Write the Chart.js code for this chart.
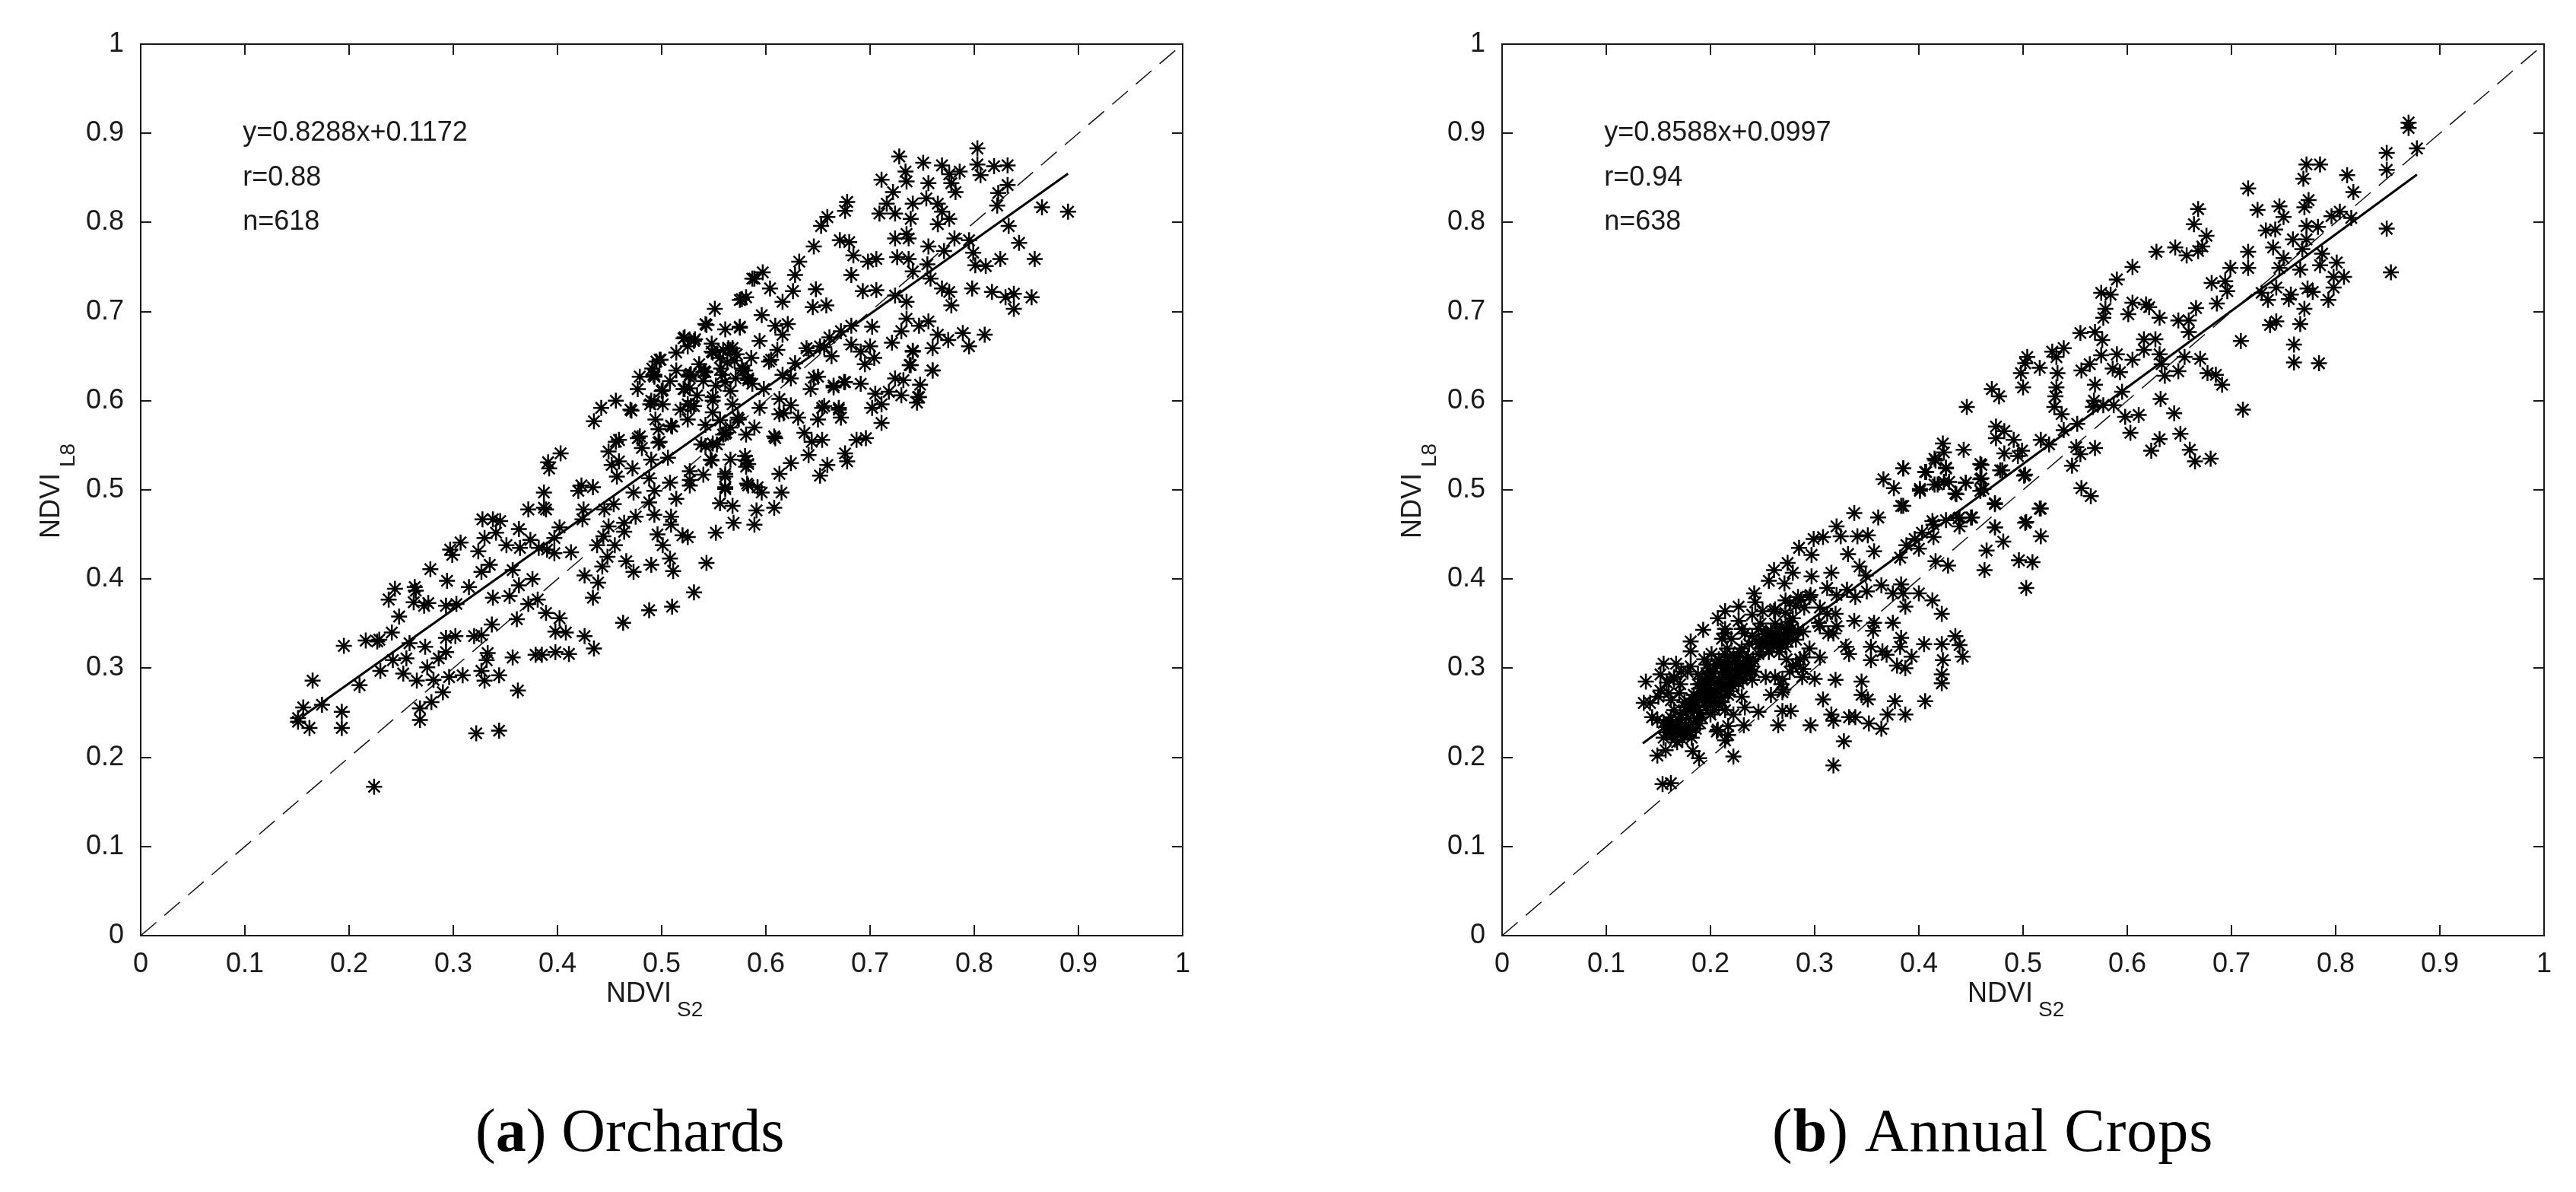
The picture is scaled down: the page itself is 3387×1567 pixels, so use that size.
<!DOCTYPE html>
<html>
<head>
<meta charset="utf-8">
<title>NDVI scatter</title>
<script src="https://cdn.jsdelivr.net/npm/chart.js@4"></script>
<style>
  body { margin: 0; background: #fff; }
  canvas { position: absolute; top: 0; }
</style>
</head>
<body>
<canvas id="chartA" width="1693" height="1567" style="left:0"></canvas>
<canvas id="chartB" width="1694" height="1567" style="left:1693px"></canvas>
<script>
// values, [NDVI S2, NDVI L8]
const orchardPoints = [
[.151,.244],[.156,.256],[.151,.240],[.162,.233],[.165,.286],[.174,.259],[.193,.251],[.193,.233],[.195,.325],[.210,.281],
[.216,.331],[.227,.330],[.229,.332],[.224,.167],[.230,.297],[.241,.340],[.248,.358],[.238,.377],[.244,.389],[.263,.391],
[.264,.387],[.262,.374],[.272,.370],[.276,.373],[.278,.411],[.294,.398],[.293,.370],[.303,.372],[.315,.391],[.307,.441],
[.297,.433],[.299,.427],[.324,.431],[.335,.416],[.327,.408],[.338,.379],[.357,.410],[.376,.400],[.363,.393],[.354,.381],
[.361,.355],[.372,.372],[.381,.377],[.389,.362],[.402,.356],[.398,.341],[.408,.340],[.426,.336],[.435,.322],[.411,.316],
[.398,.318],[.385,.315],[.379,.315],[.357,.312],[.362,.275],[.344,.292],[.330,.286],[.327,.297],[.332,.309],[.333,.317],
[.337,.349],[.327,.337],[.320,.336],[.302,.336],[.293,.334],[.293,.318],[.286,.311],[.275,.301],[.273,.324],[.258,.328],
[.255,.311],[.242,.309],[.252,.294],[.265,.286],[.281,.287],[.296,.290],[.309,.292],[.290,.273],[.279,.262],[.268,.255],
[.268,.242],[.322,.227],[.344,.230],[.413,.430],[.426,.404],[.439,.396],[.434,.379],[.463,.351],[.488,.365],[.510,.369],
[.531,.385],[.543,.418],[.511,.409],[.508,.423],[.490,.416],[.473,.408],[.466,.420],[.443,.414],[.448,.425],[.455,.438],
[.438,.438],[.444,.448],[.449,.459],[.464,.463],[.464,.453],[.475,.470],[.493,.472],[.509,.470],[.509,.461],[.496,.450],
[.501,.438],[.520,.449],[.525,.447],[.552,.452],[.569,.463],[.589,.461],[.568,.482],[.556,.485],[.591,.477],[.488,.486],
[.514,.490],[.493,.499],[.508,.508],[.527,.505],[.527,.521],[.540,.517],[.561,.515],[.561,.501],[.582,.507],[.592,.503],
[.547,.534],[.566,.534],[.581,.526],[.472,.524],[.473,.497],[.457,.515],[.452,.528],[.459,.532],[.490,.534],[.506,.536],
[.488,.513],[.423,.505],[.420,.499],[.434,.503],[.387,.497],[.372,.478],[.387,.480],[.389,.478],[.425,.478],[.424,.467],
[.445,.478],[.454,.484],[.402,.458],[.397,.446],[.374,.444],[.363,.456],[.364,.435],[.351,.438],[.341,.452],[.338,.467],
[.328,.467],[.345,.465],[.330,.446],[.397,.429],[.390,.433],[.382,.435],[.392,.524],[.403,.541],[.391,.531],
[.728,.874],[.734,.857],[.711,.848],[.751,.867],[.769,.864],[.776,.854],[.786,.857],[.803,.883],[.803,.865],[.806,.853],
[.819,.863],[.832,.864],[.823,.833],[.832,.842],[.822,.819],[.722,.834],[.735,.846],[.756,.844],[.782,.834],[.778,.844],
[.754,.827],[.741,.821],[.765,.821],[.716,.821],[.709,.810],[.724,.810],[.739,.804],[.769,.812],[.776,.804],[.765,.798],
[.865,.817],[.890,.812],[.833,.796],[.843,.777],[.858,.759],[.825,.759],[.678,.823],[.676,.813],[.659,.806],[.653,.796],
[.646,.773],[.671,.780],[.680,.778],[.684,.763],[.698,.756],[.706,.759],[.726,.761],[.737,.759],[.735,.787],[.724,.782],
[.737,.782],[.756,.773],[.771,.768],[.781,.782],[.795,.780],[.799,.766],[.801,.752],[.811,.751],[.755,.753],[.741,.745],
[.758,.737],[.682,.741],[.693,.723],[.706,.724],[.724,.718],[.735,.711],[.769,.726],[.776,.722],[.778,.707],[.798,.726],
[.817,.722],[.830,.716],[.838,.720],[.838,.703],[.855,.716],[.632,.756],[.628,.741],[.597,.744],[.587,.737],[.604,.726],
[.626,.723],[.648,.725],[.616,.711],[.645,.705],[.658,.707],[.581,.716],[.575,.713],[.551,.703],[.596,.696],[.609,.684],
[.621,.686],[.616,.674],[.543,.685],[.561,.680],[.575,.683],[.522,.671],[.532,.669],[.514,.654],[.525,.661],[.548,.655],
[.564,.659],[.594,.667],[.611,.657],[.603,.644],[.495,.644],[.492,.629],[.479,.627],[.527,.629],[.542,.632],[.577,.636],
[.583,.625],[.557,.636],[.477,.613],[.501,.612],[.522,.613],[.549,.604],[.456,.600],[.471,.589],[.490,.600],[.501,.596],
[.525,.596],[.531,.594],[.568,.596],[.561,.621],[.616,.629],[.628,.642],[.639,.659],[.652,.661],[.661,.671],[.672,.678],
[.682,.684],[.702,.683],[.700,.661],[.721,.665],[.682,.663],[.663,.650],[.691,.655],[.704,.648],[.695,.641],[.735,.692],
[.747,.684],[.756,.689],[.730,.678],[.765,.674],[.775,.668],[.789,.676],[.795,.661],[.810,.674],[.741,.655],[.760,.659],
[.739,.640],[.760,.634],[.724,.625],[.732,.623],[.748,.618],[.747,.604],[.730,.606],[.718,.610],[.705,.608],[.745,.598],
[.702,.592],[.711,.596],[.711,.575],[.691,.619],[.676,.621],[.665,.615],[.650,.627],[.643,.613],[.624,.625],[.613,.602],
[.598,.613],[.594,.592],[.613,.585],[.624,.595],[.654,.592],[.670,.592],[.650,.579],[.672,.581],[.631,.581],[.637,.564],
[.644,.554],[.654,.556],[.609,.558],[.589,.570],[.581,.562],[.574,.579],[.542,.573],[.562,.564],[.553,.551],[.538,.551],
[.497,.553],[.509,.572],[.497,.568],[.525,.579],[.494,.579],[.456,.554],[.479,.560],[.481,.547],
[.548,.533],[.581,.533],[.613,.518],[.624,.530],[.641,.539],[.652,.516],[.659,.528],
[.676,.541],[.687,.556],[.696,.558],[.678,.532],[.583,.505],[.596,.497],[.615,.497],[.608,.480],
[.577,.714],[.589,.737],[.542,.686],[.575,.682],[.521,.670],[.531,.667],[.498,.646],[.491,.636],
[.493,.627],[.526,.627],[.540,.632],[.580,.634],[.559,.657],[.568,.659],[.500,.611],[.521,.613],
[.549,.587],[.587,.619],[.442,.592],[.470,.590],[.489,.596],[.528,.594],[.435,.577],[.510,.571],
[.573,.581],[.459,.556],[.477,.558],[.449,.543],[.498,.554],[.542,.549],[.559,.562],
[.528,.630],[.541,.633],[.566,.657],[.549,.654],[.605,.646],[.583,.623],[.558,.629],[.578,.634],[.641,.656],[.656,.660],
[.646,.626],[.665,.617],[.675,.621],[.741,.656],[.760,.634],[.746,.604],[.738,.640],[.656,.594],[.670,.590],[.617,.586],
[.608,.560],[.561,.563],[.549,.552],[.583,.529],[.580,.538],[.561,.518],[.561,.503],[.527,.511],[.493,.599],[.493,.629],
[.499,.646],[.527,.614],[.549,.600],[.566,.611],[.572,.652],[.556,.648],[.536,.641],[.563,.643],[.552,.617],[.571,.625],
[.534,.606],[.518,.590],[.556,.578],[.566,.570],[.514,.634],[.508,.622],[.540,.622],[.586,.648],[.570,.645],[.548,.664]
];

const cropPoints = [
[.154,.170],[.162,.171],[.149,.202],[.157,.208],[.183,.207],[.189,.199],[.222,.201],[.214,.219],[.207,.231],[.217,.235],
[.232,.236],[.265,.236],[.269,.252],[.277,.252],[.296,.236],[.328,.218],[.318,.191],[.308,.265],[.316,.248],[.318,.241],
[.333,.245],[.339,.245],[.352,.238],[.364,.232],[.370,.248],[.387,.248],[.377,.263],[.406,.263],[.345,.285],[.345,.270],
[.351,.265],[.320,.287],[.300,.288],[.288,.290],[.305,.312],[.330,.324],[.333,.316],[.354,.324],[.354,.309],[.365,.319],
[.369,.315],[.382,.324],[.379,.303],[.387,.300],[.393,.313],[.405,.327],[.422,.327],[.435,.336],[.439,.326],[.442,.313],
[.423,.309],[.422,.293],[.422,.283],[.383,.334],[.356,.342],[.375,.351],[.357,.351],[.338,.353],[.313,.339],[.305,.347],
[.321,.347],[.312,.361],[.320,.361],[.422,.361],[.413,.376],[.400,.384],[.387,.369],[.383,.394],[.375,.384],[.385,.384],
[.364,.393],[.350,.386],[.339,.380],[.331,.388],[.312,.390],[.349,.404],[.343,.414],[.316,.407],[.297,.403],[.274,.418],
[.261,.410],[.279,.407],[.256,.398],[.271,.395],[.295,.380],[.287,.377],[.276,.373],[.242,.384],[.243,.374],[.261,.364],
[.279,.356],[.227,.369],[.214,.364],[.207,.356],[.227,.353],[.193,.343],[.181,.330],[.181,.319],[.214,.339],[.211,.333],
[.233,.339],[.246,.344],[.259,.339],[.279,.339],[.155,.305],[.167,.305],[.152,.293],[.138,.285],[.136,.261],[.142,.261],
[.152,.275],[.165,.288],[.144,.245],[.149,.242],[.181,.302],[.194,.310],[.214,.316],[.230,.322],[.246,.316],[.259,.322],
[.273,.310],[.295,.322],[.279,.302],[.289,.299],[.253,.290],[.269,.288],[.240,.302],[.227,.305],[.214,.302],[.197,.293],
[.188,.282],[.207,.282],[.220,.288],[.194,.268],[.211,.268],[.230,.268],[.233,.256],[.258,.270],[.269,.273],[.246,.251],
[.222,.248],[.204,.253],[.188,.253],[.165,.253],[.155,.239],[.171,.239],[.184,.239],[.162,.228],[.178,.228],[.168,.217],
[.155,.222],[.194,.282],[.197,.304],[.188,.293],[.201,.273],[.217,.293],[.184,.270],[.175,.262],[.162,.264],[.171,.282],
[.227,.290],[.240,.287],[.201,.316],[.220,.333],[.237,.327],[.246,.327],[.253,.339],[.266,.333],[.289,.341],[.273,.344],
[.214,.344],[.230,.344],[.158,.284],[.181,.259],[.191,.245],[.168,.233],[.171,.248],[.162,.245],[.214,.253],[.217,.225],
[.206,.229],[.305,.368],[.321,.382],[.304,.351],[.318,.339],
[.164,.233],[.172,.226],[.158,.228],[.176,.236],[.166,.220],[.182,.222],[.186,.232],[.160,.240],[.170,.242],[.190,.238],
[.178,.252],[.186,.258],[.190,.250],[.196,.256],[.200,.248],[.182,.266],[.192,.264],[.203,.262],[.176,.256],[.208,.258],
[.196,.276],[.204,.272],[.210,.278],[.200,.284],[.192,.288],[.208,.288],[.214,.282],[.218,.274],[.222,.280],[.202,.294],
[.212,.296],[.220,.298],[.198,.300],[.206,.304],[.224,.290],[.228,.298],[.216,.308],[.224,.306],[.232,.304],[.222,.314],
[.228,.318],[.236,.312],[.216,.322],[.208,.310],[.238,.298],[.250,.330],[.258,.328],[.264,.326],[.252,.338],[.262,.336],
[.270,.338],[.274,.330],[.256,.318],[.266,.318],[.240,.336],[.278,.344],[.268,.346],[.262,.350],[.248,.350],[.276,.352],
[.165,.290],[.172,.296],[.160,.272],[.170,.272],[.150,.268],[.178,.296],[.268,.282],[.270,.276],[.262,.290],[.276,.296],
[.282,.304],[.286,.310],[.290,.312],[.242,.296],[.250,.364],[.262,.366],[.272,.362],[.282,.370],[.290,.368],[.240,.360],
[.272,.376],[.284,.380],[.296,.382],
[.187,.262],[.193,.272],[.199,.266],[.205,.278],[.211,.262],[.217,.270],[.189,.277],[.195,.284],[.206,.268],[.213,.290],
[.219,.284],[.225,.296],[.231,.288],[.235,.294],[.198,.290],[.204,.300],[.210,.306],[.218,.304],[.226,.312],[.234,.308],
[.241,.310],[.213,.276],[.200,.258],[.227,.283],[.163,.226],[.175,.230],[.169,.236],[.181,.228],[.187,.244],[.159,.234],
[.179,.244],[.173,.220],[.254,.326],[.260,.334],[.268,.330],[.276,.338],[.282,.332],[.272,.324],[.258,.342],[.284,.342],
[.244,.330],[.248,.322],
[.385,.524],[.366,.512],[.376,.502],[.401,.499],[.406,.520],[.426,.525],[.383,.482],[.416,.533],[.460,.528],[.460,.513],
[.480,.522],[.501,.516],[.418,.506],[.429,.509],[.436,.495],[.445,.508],[.462,.501],[.338,.474],[.361,.469],[.473,.485],
[.451,.469],[.439,.469],[.426,.466],[.439,.459],[.414,.461],[.414,.447],[.403,.452],[.396,.445],[.388,.438],[.400,.434],
[.382,.424],[.321,.459],[.325,.448],[.341,.448],[.351,.449],[.308,.447],[.299,.445],[.285,.435],[.297,.427],[.332,.428],
[.357,.431],[.473,.458],[.481,.442],[.465,.432],[.416,.420],[.428,.415],[.463,.410],[.496,.421],[.509,.419],[.503,.390],
[.503,.464],[.517,.479],[.517,.448],
[.870,.912],[.870,.906],[.878,.883],[.849,.878],[.849,.859],[.772,.865],[.785,.865],[.811,.853],[.769,.849],[.817,.834],
[.716,.838],[.774,.825],[.770,.817],[.746,.818],[.725,.814],[.750,.806],[.804,.812],[.796,.807],[.815,.805],[.772,.796],
[.783,.795],[.849,.793],[.733,.791],[.742,.792],[.759,.781],[.772,.781],[.740,.772],[.768,.770],[.750,.760],[.787,.765],
[.801,.755],[.785,.752],[.716,.767],[.716,.749],[.699,.749],[.746,.749],[.766,.747],[.798,.739],[.808,.739],[.853,.744],
[.668,.815],[.664,.798],[.676,.785],[.672,.773],[.628,.767],[.646,.772],[.657,.763],[.668,.768],[.605,.750],[.590,.736],
[.575,.721],[.584,.719],[.579,.703],[.577,.693],[.605,.710],[.601,.697],[.618,.708],[.621,.705],[.631,.693],[.649,.690],
[.659,.690],[.666,.704],[.681,.732],[.694,.734],[.696,.723],[.686,.709],[.743,.727],[.729,.721],[.735,.713],[.757,.719],
[.755,.714],[.773,.726],[.778,.722],[.798,.727],[.793,.713],[.770,.703],[.766,.686],[.743,.689],[.737,.685],[.659,.677],
[.555,.676],[.569,.677],[.576,.668],[.616,.669],[.627,.669],[.709,.667],[.760,.663],[.760,.643],[.784,.642],[.539,.659],
[.528,.655],[.504,.649],[.532,.649],[.516,.637],[.502,.642],[.498,.631],[.500,.615],[.470,.613],[.477,.605],[.446,.593],
[.533,.631],[.532,.615],[.531,.605],[.530,.593],[.537,.585],[.575,.651],[.590,.652],[.605,.646],[.616,.657],[.631,.652],
[.564,.641],[.556,.634],[.586,.636],[.593,.632],[.633,.641],[.636,.628],[.649,.633],[.655,.649],[.670,.647],[.677,.631],
[.685,.629],[.691,.618],[.569,.618],[.568,.600],[.567,.593],[.577,.595],[.587,.595],[.595,.610],[.632,.602],[.645,.586],
[.711,.590],[.598,.582],[.611,.584],[.603,.564],[.651,.563],[.631,.557],[.623,.544],[.660,.545],[.665,.532],[.680,.535],
[.552,.574],[.539,.567],[.517,.556],[.525,.551],[.474,.571],[.482,.566],[.491,.556],[.474,.558],[.499,.544],[.482,.541],
[.495,.538],[.423,.552],[.424,.542],[.443,.545],[.415,.535],[.569,.547],[.551,.548],[.555,.540],[.547,.527],[.459,.529],
[.426,.524],[.407,.520],[.385,.524],[.478,.522],[.502,.517],[.459,.512],[.424,.509],[.415,.506],[.445,.508],[.401,.501],
[.435,.496],[.459,.499],[.556,.502],[.565,.493],[.473,.484],[.516,.479],[.385,.482],[.502,.463],[.473,.458],[.438,.468],
[.413,.465],[.450,.469]
];

// 1:1 reference and fitted lines
const identityLine = [[0, 0], [1, 1]];
const orchardFit = [[.155, .2457], [.890, .8548]];
const cropFit = [[.135, .2156], [.878, .8537]];

const tickValues = [0, .1, .2, .3, .4, .5, .6, .7, .8, .9, 1];
const tickLabels = ['0', '0.1', '0.2', '0.3', '0.4', '0.5', '0.6', '0.7', '0.8', '0.9', '1'];

const orchardNotes = ['y=0.8288x+0.1172', 'r=0.88', 'n=618'];
const cropNotes = ['y=0.8588x+0.0997', 'r=0.94', 'n=638'];
const noteRows = [.9, .85, .8];
const noteColumn = .098;

const SANS = '"Liberation Sans", Arial, sans-serif';
const SERIF = '"Liberation Serif", serif';
const INK = '#1a1a1a';

function toXY(pairs) {
    return pairs.map(p => ({ x: p[0], y: p[1] }));
}

// box, inward ticks on all four sides, notes, axis names and the caption
function panelPlugin(notes, captionBold, captionRest, captionLeft, captionSpacing) {
    return {
        id: 'panelExtras',
        afterDraw(chart) {
            const ctx = chart.ctx;
            const area = chart.chartArea;
            const xScale = chart.scales.x;
            const yScale = chart.scales.y;

            ctx.save();
            ctx.strokeStyle = INK;
            ctx.lineWidth = 2;
            ctx.strokeRect(area.left, area.top, area.right - area.left, area.bottom - area.top);
            ctx.beginPath();
            tickValues.forEach(v => {
                const px = Math.round(xScale.getPixelForValue(v));
                const py = Math.round(yScale.getPixelForValue(v));
                ctx.moveTo(px, area.bottom); ctx.lineTo(px, area.bottom - 14);
                ctx.moveTo(px, area.top); ctx.lineTo(px, area.top + 14);
                ctx.moveTo(area.left, py); ctx.lineTo(area.left + 14, py);
                ctx.moveTo(area.right, py); ctx.lineTo(area.right - 14, py);
            });
            ctx.stroke();

            ctx.fillStyle = INK;
            ctx.textBaseline = 'middle';
            ctx.textAlign = 'left';

            ctx.font = '36px ' + SANS;
            notes.forEach((text, i) => {
                ctx.fillText(text, xScale.getPixelForValue(noteColumn), yScale.getPixelForValue(noteRows[i]));
            });

            // x axis name
            ctx.font = '36px ' + SANS;
            ctx.fillText('NDVI', area.left + 612, 1307);
            ctx.font = '28px ' + SANS;
            ctx.fillText('S2', area.left + 705, 1328);

            // y axis name
            ctx.save();
            ctx.translate(area.left - 117, 708);
            ctx.rotate(-Math.PI / 2);
            ctx.font = '36px ' + SANS;
            ctx.fillText('NDVI', 0, 0);
            ctx.font = '28px ' + SANS;
            ctx.fillText('L8', 94, 22);
            ctx.restore();

            // caption
            ctx.textBaseline = 'alphabetic';
            ctx.fillStyle = '#000';
            ctx.letterSpacing = captionSpacing;
            let x = area.left + captionLeft;
            ctx.font = '80px ' + SERIF;
            ctx.fillText('(', x, 1513);
            x += ctx.measureText('(').width;
            ctx.font = 'bold 80px ' + SERIF;
            ctx.fillText(captionBold, x, 1513);
            x += ctx.measureText(captionBold).width;
            ctx.font = '80px ' + SERIF;
            ctx.fillText(captionRest, x, 1513);
            ctx.restore();
        }
    };
}

function axisOptions(sideSize, isX) {
    return {
        type: 'linear',
        min: 0,
        max: 1,
        grid: { display: false },
        border: { display: false },
        afterFit(scale) {
            if (isX) {
                scale.height = sideSize;
                scale.paddingLeft = 0;
                scale.paddingRight = 0;
            } else {
                scale.width = sideSize;
                scale.paddingTop = 0;
                scale.paddingBottom = 0;
            }
        },
        afterBuildTicks(scale) {
            scale.ticks = tickValues.map(v => ({ value: v }));
        },
        ticks: {
            color: INK,
            font: { family: SANS, size: 36 },
            padding: isX ? 8 : 14,
            maxRotation: 0,
            autoSkip: false,
            callback: (value, index) => tickLabels[index]
        }
    };
}

function drawPanel(canvasId, points, fit, notes, caption, padLeft, padRight) {
    return new Chart(document.getElementById(canvasId), {
        type: 'scatter',
        data: {
            datasets: [
                {
                    data: toXY(points),
                    pointStyle: 'star',
                    pointRadius: 10.5,
                    borderColor: '#000',
                    pointBorderWidth: 2.5,
                    showLine: false
                },
                {
                    data: toXY(identityLine),
                    showLine: true,
                    pointRadius: 0,
                    borderColor: '#111',
                    borderWidth: 1.5,
                    borderDash: [27, 14]
                },
                {
                    data: toXY(fit),
                    showLine: true,
                    pointRadius: 0,
                    borderColor: '#000',
                    borderWidth: 3
                }
            ]
        },
        options: {
            responsive: false,
            animation: false,
            layout: { padding: { left: padLeft, right: padRight, top: 58, bottom: 277 } },
            plugins: { legend: { display: false }, tooltip: { enabled: false } },
            scales: {
                x: axisOptions(60, true),
                y: axisOptions(100, false)
            }
        },
        plugins: [panelPlugin(notes, caption[0], caption[1], caption[2], caption[3])]
    });
}

drawPanel('chartA', orchardPoints, orchardFit, orchardNotes, ['a', ') Orchards', 440, '0px'], 85, 138);
drawPanel('chartB', cropPoints, cropFit, cropNotes, ['b', ') Annual Crops', 355, '1px'], 182, 42);
</script>
</body>
</html>
